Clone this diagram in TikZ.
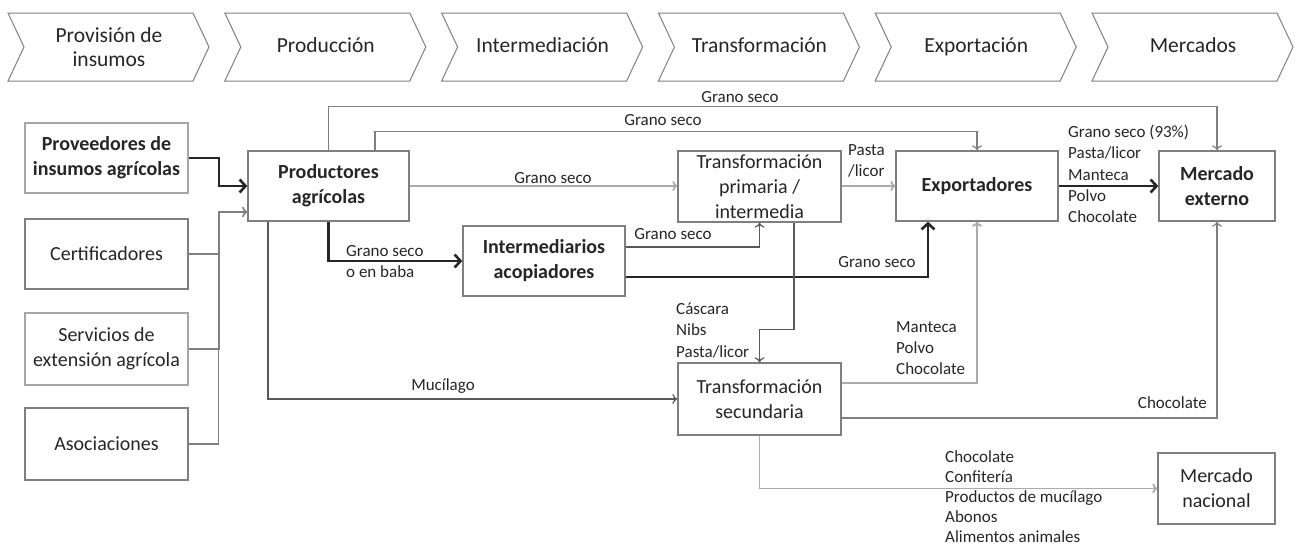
\documentclass[tikz,border=0pt]{standalone}
\usepackage{fontspec}
\setmainfont{Carlito}
\usetikzlibrary{arrows.meta,calc}
\definecolor{txt}{HTML}{262626}
\definecolor{ln}{HTML}{7F7F7F}
\definecolor{lnlight}{HTML}{ABABAB}
\definecolor{lndark}{HTML}{595959}
\definecolor{bd}{HTML}{7F7F7F}
\definecolor{bdlight}{HTML}{A6A6A6}
\begin{document}
\begin{tikzpicture}[x=1pt,y=-1pt,
  bx/.style={draw=bd,line width=1.3pt,fill=white,align=center,text=txt,
     font=\fontsize{20}{25}\selectfont,inner sep=0pt},
  bxb/.style={bx,font=\bfseries\fontsize{20}{25}\selectfont},
  lbl/.style={text=txt,font=\fontsize{17}{21.3}\selectfont,inner sep=0pt,align=left},
  chev/.style={draw=bd,line width=1pt},
  ctext/.style={text=txt,font=\fontsize{21.5}{24}\selectfont,align=center,inner sep=0pt},
  cone/.style={ctext,text height=15pt,text depth=5pt},
  arrthin/.style={draw=ln,line width=1.2pt,-{To[length=5pt,width=10pt]}},
  arrlight/.style={draw=lnlight,line width=1.8pt,-{To[length=5pt,width=10pt]}},
  arrdark/.style={draw=lndark,line width=1.2pt,-{To[length=5pt,width=10pt]}},
  arrthick/.style={draw=txt,line width=2.6pt,-{Straight Barb[length=6pt,width=13pt]}}]
\useasboundingbox (0,0) rectangle (1296,546);

% chevrons
\foreach \i in {0,...,5}{
  \pgfmathsetmacro{\L}{8+216.8*\i}
  \draw[chev] (\L,13) -- ++(185,0) -- ++(16,34) -- ++(-16,34) -- ++(-185,0) -- ++(16,-34) -- cycle;
}
\node[ctext] (chev0) at (109,47) {Provisión de\\insumos};
\node[cone] (chev1) at (325.8,47) {Producción};
\node[cone] (chev2) at (542.6,47) {Intermediación};
\node[cone] (chev3) at (759.4,47) {Transformación};
\node[cone] (chev4) at (976.2,47) {Exportación};
\node[cone] (chev5) at (1193,47) {Mercados};

% boxes
\node[bxb,draw=bdlight,line width=2pt,minimum width=163pt,minimum height=70pt] (prov) at (106.5,158) {Proveedores de\\insumos agrícolas};
\node[bx,minimum width=163pt,minimum height=70pt] (cert) at (106.5,254) {Certificadores};
\node[bx,draw=bdlight,line width=2pt,minimum width=163pt,minimum height=72pt] (serv) at (106.5,349) {Servicios de\\extensión agrícola};
\node[bx,minimum width=163pt,minimum height=72pt] (asoc) at (106.5,444) {Asociaciones};
\node[bxb,minimum width=161pt,minimum height=70pt] (prod) at (328.5,186) {Productores\\agrícolas};
\node[bx,minimum width=163pt,minimum height=71pt] (tp) at (759.5,186.5) {Transformación\\primaria /\\intermedia};
\node[bxb,minimum width=162pt,minimum height=70pt] (inter) at (544,261) {Intermediarios\\acopiadores};
\node[bxb,minimum width=162pt,minimum height=70pt] (exp) at (977,186) {Exportadores};
\node[bxb,minimum width=116pt,minimum height=70pt] (mext) at (1217,186) {Mercado\\externo};
\node[bx,minimum width=163pt,minimum height=72pt] (ts) at (759.5,399) {Transformación\\secundaria};
\node[bx,minimum width=117pt,minimum height=71pt] (mnac) at (1216.5,488.5) {Mercado\\nacional};

% inputs to producers
\draw[arrthick] (prov.east) -- ++(30,0) |- (prod.west);
\draw[arrthin] (asoc.east) -- ++(30,0) |- ([yshift=-26pt]prod.west);
\draw[arrthin] (serv.east) -- ++(30,0) |- ([yshift=-26pt]prod.west);
\draw[arrthin] (cert.east) -- ++(30,0) |- ([yshift=-26pt]prod.west);

% from producers
\draw[arrthin] (prod.north) -- ++(0,-44) -| (mext.north);
\node[lbl] (l1) at (740,97) {Grano seco};
\draw[arrthin] ([xshift=46.5pt]prod.north) -- ++(0,-19) -| (exp.north);
\node[lbl] (l2) at (663,120) {Grano seco};
\draw[arrlight] (prod.east) -- (tp.west |- prod.east);
\node[lbl] (l3) at (553,178) {Grano seco};
\draw[arrlight] (tp.east |- exp.west) -- (exp.west);
\node[lbl,anchor=west] (l4) at (848,161) {Pasta\\/licor};
\draw[arrthick] (prod.south) |- (inter.west);
\node[lbl,anchor=west] (l5) at (346,251) {Grano seco};
\node[lbl,anchor=west] (l6) at (346,272) {o en baba};
\draw[arrdark] ([yshift=14pt]inter.east) -| (tp.south);
\node[lbl] (l7) at (673,234) {Grano seco};
\draw[arrthick] ([yshift=-16pt]inter.east) -| ([xshift=-49pt]exp.south);
\node[lbl] (l8) at (877,262) {Grano seco};
\draw[arrdark] ([xshift=34.5pt]tp.south) -- ++(0,107) -| (ts.north);
\node[lbl,anchor=west] (l9) at (676,330.5) {Cáscara\\Nibs\\Pasta/licor};
\draw[arrdark] ([xshift=-60.5pt]prod.south) |- (ts.west);
\node[lbl] (l10) at (443,386) {Mucílago};
\draw[arrlight] ([yshift=16pt]ts.east) -| (exp.south);
\node[lbl,anchor=west] (l11) at (896,348) {Manteca\\Polvo\\Chocolate};
\draw[arrthin] ([yshift=-19pt]ts.east) -| (mext.south);
\node[lbl,anchor=east] (l12) at (1207,403) {Chocolate};
\draw[arrlight] (ts.south) |- (mnac.west);
\node[lbl,anchor=west,font=\fontsize{17}{20}\selectfont] (l13) at (945,496.5) {Chocolate\\Confitería\\Productos de mucílago\\Abonos\\Alimentos animales};
\draw[arrthick] (exp.east) -- (mext.west);
\node[lbl,anchor=west] (l14) at (1068,174) {Grano seco (93\%)\\Pasta/licor\\Manteca\\Polvo\\Chocolate};
\end{tikzpicture}
\end{document}
